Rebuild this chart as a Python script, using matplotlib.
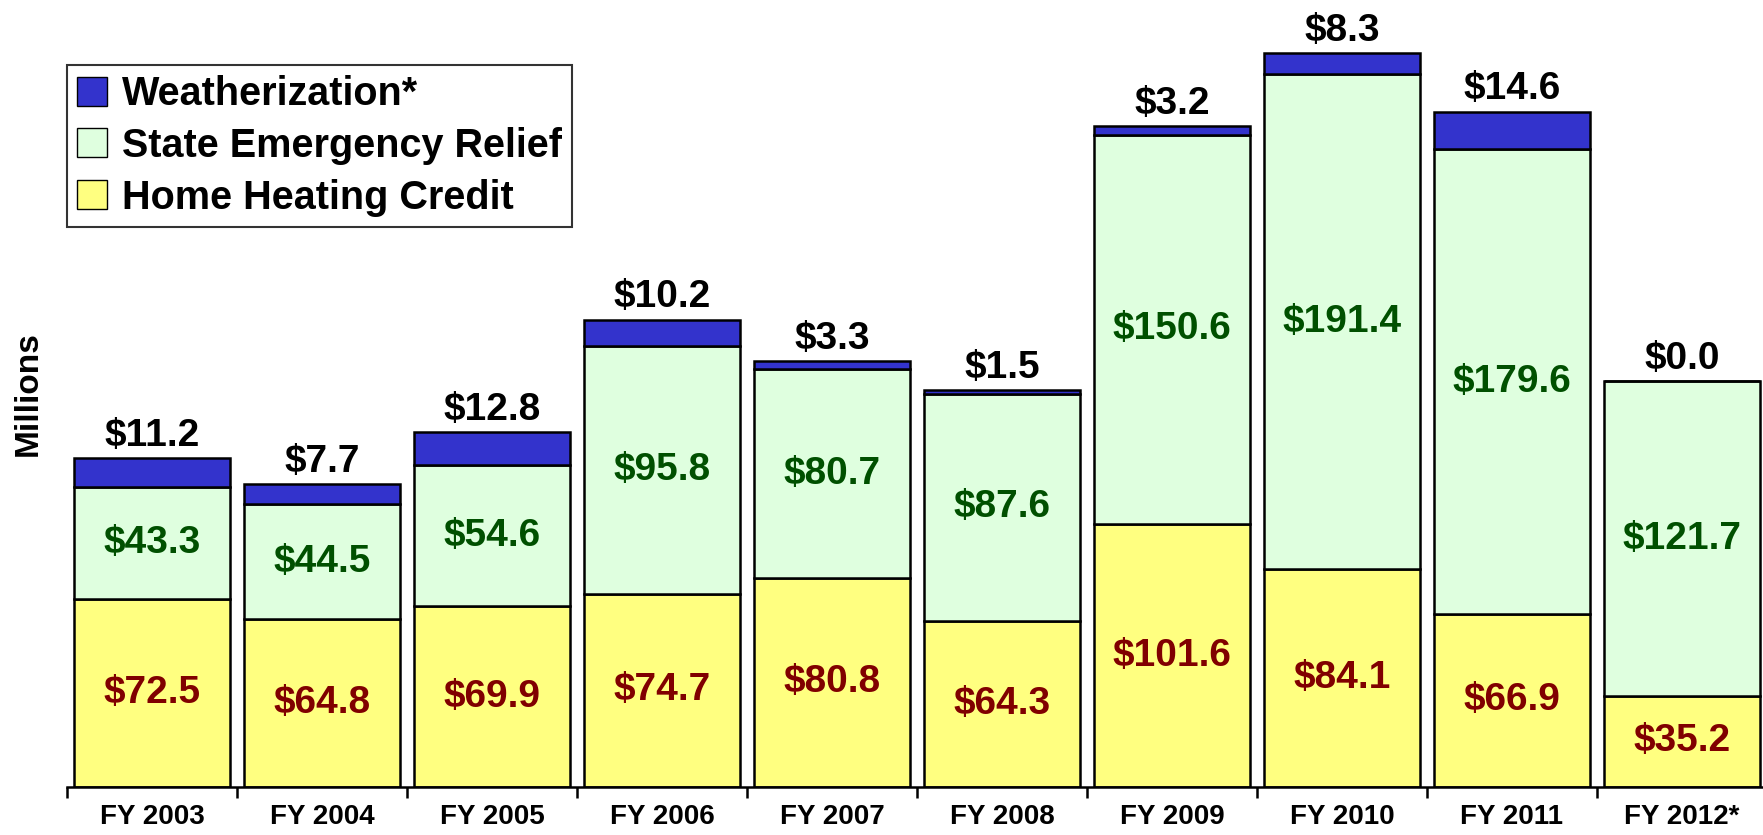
import matplotlib.pyplot as plt
import numpy as np
from matplotlib.patches import Patch

plt.rcParams["font.family"] = ["Liberation Sans", "DejaVu Sans"]
plt.rcParams["font.weight"] = "bold"

years = ["FY 2003", "FY 2004", "FY 2005", "FY 2006", "FY 2007",
         "FY 2008", "FY 2009", "FY 2010", "FY 2011", "FY 2012*"]
home_heating = [72.5, 64.8, 69.9, 74.7, 80.8, 64.3, 101.6, 84.1, 66.9, 35.2]
emergency_relief = [43.3, 44.5, 54.6, 95.8, 80.7, 87.6, 150.6, 191.4, 179.6, 121.7]
weatherization = [11.2, 7.7, 12.8, 10.2, 3.3, 1.5, 3.2, 8.3, 14.6, 0.0]

c_weather = "#3333cc"
c_ser = "#dfffdf"
c_hhc = "#ffff80"

fig = plt.figure(figsize=(17.63, 8.35), dpi=100)
ax = fig.add_axes([67 / 1763, 48 / 835, 1700 / 1763, 776 / 835])

x = np.arange(len(years))
hhc = np.array(home_heating)
ser = np.array(emergency_relief)
wz = np.array(weatherization)
width = 0.92
kw = dict(width=width, edgecolor="black", linewidth=1.8)

ax.bar(x, hhc, color=c_hhc, **kw)
ax.bar(x, ser, bottom=hhc, color=c_ser, **kw)
ax.bar(x, wz, bottom=hhc + ser, color=c_weather, **kw)

for i in x:
    ax.text(i, hhc[i] / 2, f"${hhc[i]:.1f}", ha="center", va="center",
            fontsize=28, color="#800000", fontweight="bold")
    ax.text(i, hhc[i] + ser[i] / 2, f"${ser[i]:.1f}", ha="center", va="center",
            fontsize=28, color="#005000", fontweight="bold")
    ax.annotate(f"${wz[i]:.1f}", (i, hhc[i] + ser[i] + wz[i]),
                xytext=(0, 3), textcoords="offset points",
                ha="center", va="bottom", fontsize=28, color="black",
                fontweight="bold")

ax.set_xlim(-0.5, len(years) - 0.5)
ax.set_ylim(0, 300)
ax.set_xticks(x)
ax.set_xticklabels(years, fontsize=20, fontweight="bold")
ax.tick_params(axis="x", which="major", length=0, pad=12)
ax.set_xticks(np.arange(-0.5, len(years), 1), minor=True)
ax.tick_params(axis="x", which="minor", length=8, width=1.8, direction="out")
ax.set_yticks([])
for side in ["left", "right", "top"]:
    ax.spines[side].set_visible(False)
ax.spines["bottom"].set_linewidth(1.8)

fig.text(28 / 1763, 1 - 394 / 835, "Millions", rotation=90, ha="center",
         va="center", fontsize=24, fontweight="bold")

handles = [Patch(facecolor=c_weather, edgecolor="black", label="Weatherization*"),
           Patch(facecolor=c_ser, edgecolor="black", label="State Emergency Relief"),
           Patch(facecolor=c_hhc, edgecolor="black", label="Home Heating Credit")]
leg = fig.legend(handles=handles, loc="upper left",
                 bbox_to_anchor=(67 / 1763, 1 - 65 / 835),
                 fontsize=28.5, frameon=True, fancybox=False,
                 handlelength=0.75, handleheight=0.75, handletextpad=0.4,
                 borderpad=0.25, labelspacing=0.35, borderaxespad=0)
leg.get_frame().set_edgecolor("black")
leg.get_frame().set_linewidth(1.5)
for t in leg.get_texts():
    t.set_fontweight("bold")

fig.savefig("out.png", dpi=100)
